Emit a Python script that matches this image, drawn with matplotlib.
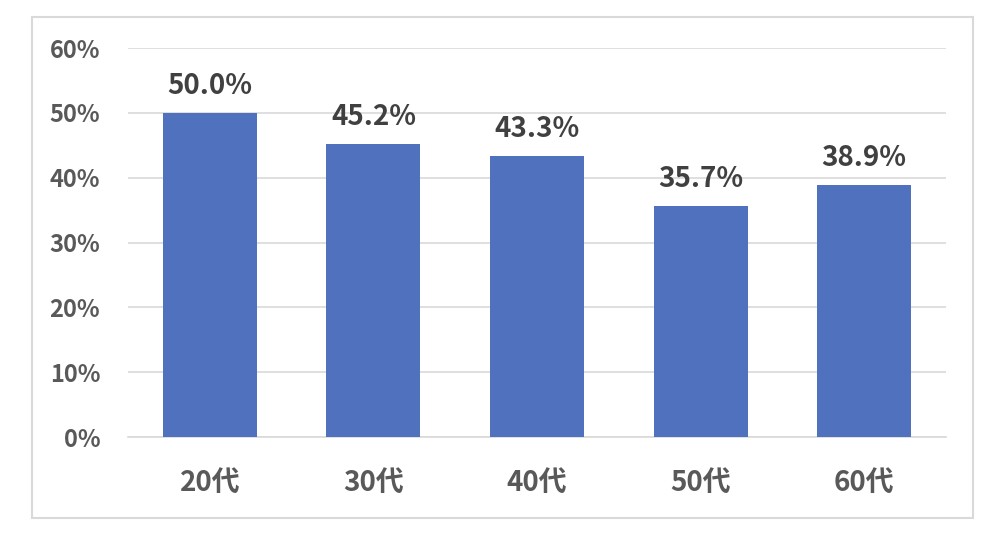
import matplotlib.pyplot as plt
from matplotlib.patches import Rectangle

plt.rcParams['font.family'] = ['Noto Sans CJK JP', 'DejaVu Sans']

categories = ['20代', '30代', '40代', '50代', '60代']
values = [50.0, 45.2, 43.3, 35.7, 38.9]
yticks = [0, 10, 20, 30, 40, 50, 60]

fig = plt.figure(figsize=(10, 5.36), dpi=100)
ax = fig.add_axes([0.128, 0.1847, 0.818, 0.7257])

# outer frame like the Excel chart area
fig.patches.append(Rectangle((0.032, 0.034), 0.941, 0.934, transform=fig.transFigure,
                             fill=False, edgecolor='#D9D9D9', linewidth=1.5))

x = range(len(categories))
ax.bar(x, values, width=0.575, color='#4F71BE', zorder=3)
for i, v in zip(x, values):
    ax.text(i, v + 2.0, '%.1f%%' % v, ha='center', va='bottom',
            fontsize=20, fontweight='bold', color='#404040')

ax.set_xlim(-0.5, 4.5)
ax.set_ylim(0, 60)
ax.set_yticks(yticks)
ax.set_yticklabels(['%d%%' % t for t in yticks])
ax.set_xticks(list(x))
ax.set_xticklabels(categories)
ax.grid(axis='y', color='#D9D9D9', linewidth=1.2, zorder=0)
for s in ['top', 'right', 'left']:
    ax.spines[s].set_visible(False)
ax.spines['bottom'].set_color('#D9D9D9')
ax.spines['bottom'].set_linewidth(1.2)
ax.tick_params(axis='both', length=0, labelcolor='#595959')
ax.tick_params(axis='y', pad=20, labelsize=17)
ax.tick_params(axis='x', pad=23, labelsize=20)
for lbl in ax.get_xticklabels() + ax.get_yticklabels():
    lbl.set_fontweight('bold')

fig.savefig('out.png')
